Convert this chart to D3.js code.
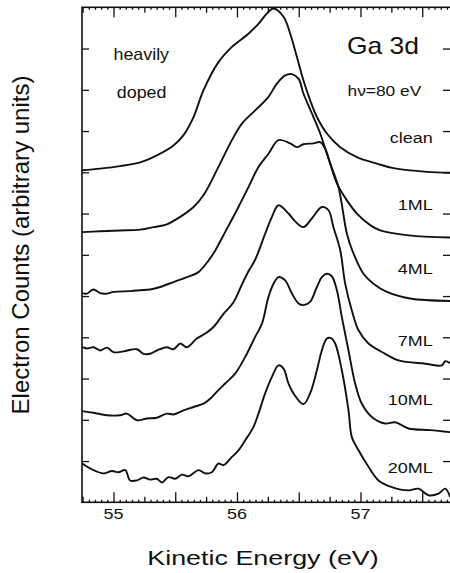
<!DOCTYPE html>
<html>
<head>
<meta charset="utf-8">
<script src="https://cdn.jsdelivr.net/npm/d3@7/dist/d3.min.js"></script>
<style>
  body { margin: 0; background: #fff; }
  svg { display: block; }
  text { font-family: "Liberation Sans", Arial, Helvetica, sans-serif; fill: #111; }
</style>
</head>
<body>
<svg id="chart" width="450" height="573"></svg>
<script>
// spectra: [kinetic energy (eV), counts incl. stack offset]
let clean = [[54.747,8.05],[54.892,8.09],[55.054,8.15],[55.216,8.24],[55.351,8.41],[55.486,8.65],[55.567,8.90],
  [55.648,9.34],[55.729,9.99],[55.850,10.67],[55.959,11.04],[56.093,11.36],[56.174,11.60],[56.236,11.83],
  [56.296,11.97],[56.377,11.77],[56.431,11.36],[56.485,10.80],[56.538,10.23],[56.592,9.75],[56.647,9.34],
  [56.728,8.94],[56.836,8.61],[56.971,8.37],[57.133,8.21],[57.267,8.10],[57.538,8.01],[57.726,7.99]];
let ml1 = [[54.747,6.55],[54.892,6.57],[55.054,6.59],[55.216,6.61],[55.324,6.67],[55.432,6.74],[55.540,6.92],
  [55.648,7.16],[55.734,7.47],[55.850,8.13],[55.959,8.78],[56.040,9.18],[56.147,9.50],[56.255,9.83],
  [56.323,10.15],[56.390,10.35],[56.445,10.38],[56.498,10.27],[56.538,9.91],[56.619,9.34],[56.674,8.94],
  [56.714,8.58],[56.755,8.21],[56.809,7.73],[56.890,7.32],[56.971,7.00],[57.079,6.72],[57.160,6.59],
  [57.389,6.47],[57.726,6.42]];
let ml4 = [[54.747,5.07],[54.785,5.06],[54.838,5.16],[54.892,5.07],[54.947,5.06],[55.000,5.10],[55.135,5.12],
  [55.216,5.14],[55.297,5.16],[55.378,5.22],[55.486,5.34],[55.594,5.46],[55.688,5.58],[55.769,5.86],
  [55.823,6.10],[55.904,6.55],[56.012,7.16],[56.093,7.64],[56.174,8.13],[56.255,8.45],[56.336,8.78],
  [56.431,8.70],[56.485,8.61],[56.538,8.68],[56.619,8.70],[56.674,8.73],[56.714,8.57],[56.755,8.21],
  [56.822,7.64],[56.890,6.51],[56.933,6.11],[57.024,5.54],[57.105,5.30],[57.214,5.10],[57.402,4.94],[57.726,4.88]];
let ml7 = [[54.747,3.76],[54.785,3.73],[54.838,3.76],[54.892,3.68],[54.947,3.75],[55.000,3.64],[55.081,3.66],
  [55.189,3.71],[55.243,3.60],[55.297,3.60],[55.351,3.68],[55.432,3.76],[55.486,3.71],[55.540,3.85],
  [55.594,3.76],[55.675,3.97],[55.743,4.09],[55.810,4.25],[55.891,4.57],[55.972,4.85],[56.040,5.28],
  [56.093,5.60],[56.147,5.88],[56.228,6.51],[56.283,6.92],[56.336,7.20],[56.417,7.00],[56.471,6.81],
  [56.538,6.67],[56.606,6.88],[56.687,7.16],[56.741,7.08],[56.781,6.67],[56.836,6.11],[56.876,5.30],
  [56.930,4.65],[56.984,4.17],[57.065,3.85],[57.200,3.60],[57.308,3.44],[57.524,3.36],[57.659,3.32],
  [57.686,3.42],[57.726,3.37]];
let ml10 = [[54.747,2.21],[54.838,2.17],[54.947,2.11],[55.054,2.11],[55.108,2.15],[55.189,1.99],[55.270,2.03],
  [55.351,2.05],[55.432,2.15],[55.486,2.13],[55.567,2.23],[55.648,2.31],[55.729,2.39],[55.783,2.51],
  [55.850,2.72],[55.904,2.88],[55.985,3.12],[56.066,3.52],[56.147,4.01],[56.202,4.33],[56.255,4.98],
  [56.296,5.30],[56.336,5.46],[56.390,5.38],[56.445,5.06],[56.498,4.82],[56.538,4.78],[56.592,4.86],
  [56.647,5.22],[56.687,5.46],[56.728,5.54],[56.768,5.48],[56.809,5.14],[56.849,4.49],[56.903,3.68],
  [56.957,2.88],[57.011,2.39],[57.092,2.07],[57.200,1.91],[57.281,1.94],[57.389,1.79],[57.564,1.75],[57.726,1.70]];
let ml20 = [[54.747,0.94],[54.811,0.82],[54.919,0.70],[54.987,0.76],[55.040,0.73],[55.095,0.78],[55.135,0.53],
  [55.189,0.53],[55.243,0.60],[55.297,0.55],[55.351,0.57],[55.392,0.48],[55.445,0.61],[55.500,0.57],
  [55.554,0.67],[55.607,0.63],[55.688,0.78],[55.743,0.70],[55.797,0.73],[55.850,0.94],[55.891,0.90],
  [55.959,1.10],[56.012,1.26],[56.066,1.50],[56.134,1.83],[56.174,2.15],[56.228,2.64],[56.283,3.04],
  [56.336,3.32],[56.377,3.24],[56.417,2.88],[56.457,2.64],[56.538,2.38],[56.592,2.64],[56.647,3.20],
  [56.687,3.68],[56.728,3.97],[56.762,3.98],[56.795,3.85],[56.849,3.20],[56.903,2.23],[56.930,1.58],
  [56.984,1.26],[57.065,0.86],[57.146,0.53],[57.254,0.37],[57.389,0.29],[57.470,0.33],[57.551,0.17],
  [57.632,0.21],[57.686,0.33],[57.726,0.13]];

let spectra = [clean, ml1, ml4, ml7, ml10, ml20];
let coverageLabels = ["clean", "1ML", "4ML", "7ML", "10ML", "20ML"];
let xTickLabels = [55, 56, 57];

let svg = d3.select("#chart");
let plotLeft = 82, plotRight = 451, plotTop = 7.3, plotBottom = 502.3;

let x = d3.scaleLinear().domain([54.745, 57.733]).range([plotLeft, plotRight]);
let y = d3.scaleLinear().domain([0, 12]).range([plotBottom, plotTop]);

// stretched text helper (the scanned lettering is wider than Helvetica)
function label(g, txt, px, py, size, sx, anchor) {
  return g.append("text")
    .attr("transform", "translate(" + px + "," + py + ") scale(" + sx + ",1)")
    .attr("text-anchor", anchor || "start")
    .style("font-size", size + "px")
    .text(txt);
}

// spectra
let line = d3.line()
  .x(function(d) { return x(d[0]); })
  .y(function(d) { return y(d[1]); })
  .curve(d3.curveCatmullRom.alpha(0.5));

svg.append("g").selectAll("path")
  .data(spectra).enter()
  .append("path")
  .attr("d", line)
  .attr("fill", "none")
  .attr("stroke", "#111")
  .attr("stroke-width", 1.9)
  .attr("stroke-linejoin", "round");

// ticks: every 0.5 long, quarters medium, 0.05 tiny
let halfTicks = d3.range(55, 57.75, 0.5);
let quarterTicks = d3.range(54.75, 57.75, 0.5);
let minorTicks = d3.range(54.75, 57.73, 0.05).filter(function(v) {
  return Math.abs(v * 4 - Math.round(v * 4)) > 0.01;
});

function tickStyle(g) {
  g.select(".domain").remove();
  g.selectAll("line").attr("stroke", "#111").attr("stroke-width", 1.3);
}

[[halfTicks, 10], [quarterTicks, 5.5], [minorTicks, 2.5]].forEach(function(t) {
  svg.append("g").attr("transform", "translate(0," + plotBottom + ")")
    .call(d3.axisBottom(x).tickValues(t[0]).tickSize(-t[1]).tickFormat(""))
    .call(tickStyle);
  svg.append("g").attr("transform", "translate(0," + plotTop + ")")
    .call(d3.axisTop(x).tickValues(t[0]).tickSize(-t[1]).tickFormat(""))
    .call(tickStyle);
});

// bottom numbers
xTickLabels.forEach(function(v) {
  label(svg, v, x(v), 519, 15, 1.2, "middle");
});

svg.append("g").attr("transform", "translate(" + plotLeft + ",0)")
  .call(d3.axisLeft(y).tickValues(d3.range(1, 12)).tickSize(-7).tickFormat(""))
  .call(tickStyle);
svg.append("g").attr("transform", "translate(" + plotRight + ",0)")
  .call(d3.axisRight(y).tickValues(d3.range(1, 12)).tickSize(-8).tickFormat(""))
  .call(tickStyle);

// frame
svg.append("rect")
  .attr("x", plotLeft).attr("y", plotTop)
  .attr("width", plotRight - plotLeft).attr("height", plotBottom - plotTop)
  .attr("fill", "none").attr("stroke", "#111").attr("stroke-width", 1.6);

// curve labels at the right
let labelLevels = [8.70, 7.08, 5.53, 3.78, 2.35, 0.71];
coverageLabels.forEach(function(t, i) {
  label(svg, t, x(57.585), y(labelLevels[i]), 15, 1.2, "end");
});

label(svg, "Ga 3d", x(56.89), y(10.88), 23, 1.15);
label(svg, "h\u03bd=80 eV", x(56.895), y(9.85), 15.5, 1.12);
label(svg, "heavily", x(55.0), y(10.73), 17, 1.05);
label(svg, "doped", x(55.027), y(9.79), 17, 1.05);

// axis titles
label(svg, "Kinetic Energy (eV)", 263, 565, 21, 1.28, "middle");
svg.append("text")
  .attr("transform", "translate(29,245) rotate(-90)")
  .attr("text-anchor", "middle")
  .style("font-size", "24px")
  .text("Electron Counts (arbitrary units)");
</script>
</body>
</html>
